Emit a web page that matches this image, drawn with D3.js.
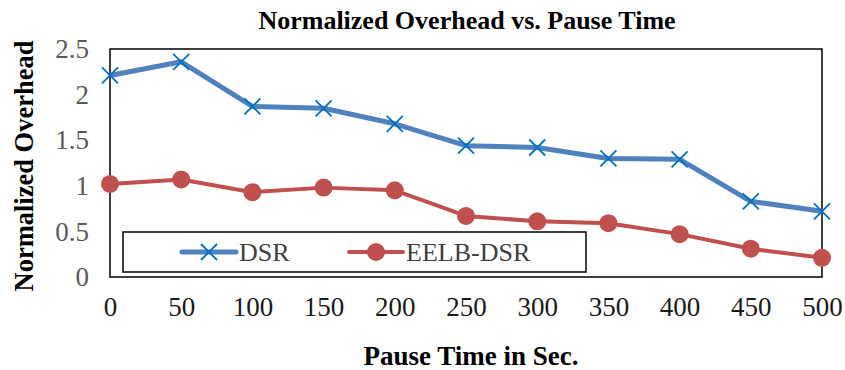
<!DOCTYPE html>
<html>
<head>
<meta charset="utf-8">
<script src="https://cdn.jsdelivr.net/npm/d3@7"></script>
<style>
  body { margin: 0; background: #fff; }
</style>
</head>
<body>
<div id="chart"></div>
<script>
// Data
const pauseTimes = [0, 50, 100, 150, 200, 250, 300, 350, 400, 450, 500];
const dsr = [2.21, 2.36, 1.87, 1.85, 1.68, 1.44, 1.42, 1.30, 1.29, 0.83, 0.72];
const eelbDsr = [1.02, 1.07, 0.93, 0.98, 0.95, 0.67, 0.61, 0.59, 0.47, 0.31, 0.21];
const yTicks = [0, 0.5, 1, 1.5, 2, 2.5];
const seriesNames = ["DSR", "EELB-DSR"];

const width = 845;
const height = 370;
const margin = { top: 49, right: 23, bottom: 93, left: 110 };
const serif = "'Liberation Serif', 'Times New Roman', serif";

const svg = d3.select("#chart")
    .append("svg")
    .attr("width", width)
    .attr("height", height);

const x = d3.scaleLinear()
    .domain([0, 500])
    .range([margin.left, width - margin.right]);

const y = d3.scaleLinear()
    .domain([0, 2.5])
    .range([height - margin.bottom, margin.top]);

// Title
svg.append("text")
    .attr("x", 467)
    .attr("y", 29)
    .attr("text-anchor", "middle")
    .style("font-family", serif)
    .style("font-size", "26px")
    .style("font-weight", "bold")
    .text("Normalized Overhead vs. Pause Time");

// Plot frame
svg.append("rect")
    .attr("x", x(0))
    .attr("y", y(2.5))
    .attr("width", x(500) - x(0))
    .attr("height", y(0) - y(2.5))
    .attr("fill", "none")
    .attr("stroke", "#000")
    .attr("stroke-width", 1.5);

// Y axis labels
svg.append("g")
    .attr("transform", `translate(${x(0)},0)`)
    .call(d3.axisLeft(y).tickValues(yTicks).tickSize(0).tickPadding(21).tickFormat(d => d))
    .call(g => g.select(".domain").remove())
    .selectAll("text")
    .style("font-family", serif)
    .style("font-size", "27px")
    .attr("fill", "#595959");

// X axis labels
svg.append("g")
    .attr("transform", `translate(0,${y(0)})`)
    .call(d3.axisBottom(x).tickValues(pauseTimes).tickSize(0).tickPadding(20))
    .call(g => g.select(".domain").remove())
    .selectAll("text")
    .style("font-family", serif)
    .style("font-size", "27px")
    .attr("fill", "#1a1a1a");

// Axis titles
svg.append("text")
    .attr("x", 471)
    .attr("y", 365)
    .attr("text-anchor", "middle")
    .style("font-family", serif)
    .style("font-size", "27px")
    .style("font-weight", "bold")
    .text("Pause Time in Sec.");

svg.append("text")
    .attr("transform", `translate(33,${(y(0) + y(2.5)) / 2 + 3}) rotate(-90)`)
    .attr("text-anchor", "middle")
    .style("font-family", serif)
    .style("font-size", "26.5px")
    .style("font-weight", "bold")
    .text("Normalized Overhead");

const line = d3.line()
    .x((d, i) => x(pauseTimes[i]))
    .y(d => y(d));

// Legend box (drawn under lines)
svg.append("rect")
    .attr("x", 123)
    .attr("y", 232)
    .attr("width", 463)
    .attr("height", 40)
    .attr("fill", "#fff")
    .attr("stroke", "#000")
    .attr("stroke-width", 1.5);

// DSR
svg.append("path")
    .datum(dsr)
    .attr("d", line)
    .attr("fill", "none")
    .attr("stroke", "#4F81BD")
    .attr("stroke-width", 5)
    .attr("stroke-linejoin", "round");

const crossPath = s => `M${-s},${-s}L${s},${s}M${-s},${s}L${s},${-s}`;

svg.append("g")
    .selectAll("path")
    .data(dsr)
    .enter()
    .append("path")
    .attr("transform", (d, i) => `translate(${x(pauseTimes[i])},${y(d)})`)
    .attr("d", crossPath(8))
    .attr("stroke", "#0070C0")
    .attr("stroke-width", 1.8)
    .attr("fill", "none");

// EELB-DSR
svg.append("path")
    .datum(eelbDsr)
    .attr("d", line)
    .attr("fill", "none")
    .attr("stroke", "#C0504D")
    .attr("stroke-width", 4)
    .attr("stroke-linejoin", "round");

svg.append("g")
    .selectAll("circle")
    .data(eelbDsr)
    .enter()
    .append("circle")
    .attr("cx", (d, i) => x(pauseTimes[i]))
    .attr("cy", d => y(d))
    .attr("r", 9)
    .attr("fill", "#C0504D");

// Legend entries
const legendY = 252;
const legend = svg.append("g");

legend.append("line")
    .attr("x1", 182).attr("x2", 236)
    .attr("y1", legendY).attr("y2", legendY)
    .attr("stroke", "#4F81BD")
    .attr("stroke-width", 5)
    .attr("stroke-linecap", "round");
legend.append("path")
    .attr("transform", `translate(209,${legendY})`)
    .attr("d", crossPath(8))
    .attr("stroke", "#0070C0")
    .attr("stroke-width", 1.8);
legend.append("text")
    .attr("x", 239)
    .attr("y", legendY + 9)
    .style("font-family", serif)
    .style("font-size", "26px")
    .attr("fill", "#404040")
    .text(seriesNames[0]);

legend.append("line")
    .attr("x1", 349).attr("x2", 403)
    .attr("y1", legendY).attr("y2", legendY)
    .attr("stroke", "#C0504D")
    .attr("stroke-width", 4)
    .attr("stroke-linecap", "round");
legend.append("circle")
    .attr("cx", 376)
    .attr("cy", legendY)
    .attr("r", 9)
    .attr("fill", "#C0504D");
legend.append("text")
    .attr("x", 406)
    .attr("y", legendY + 9)
    .style("font-family", serif)
    .style("font-size", "26px")
    .attr("fill", "#404040")
    .text(seriesNames[1]);
</script>
</body>
</html>
